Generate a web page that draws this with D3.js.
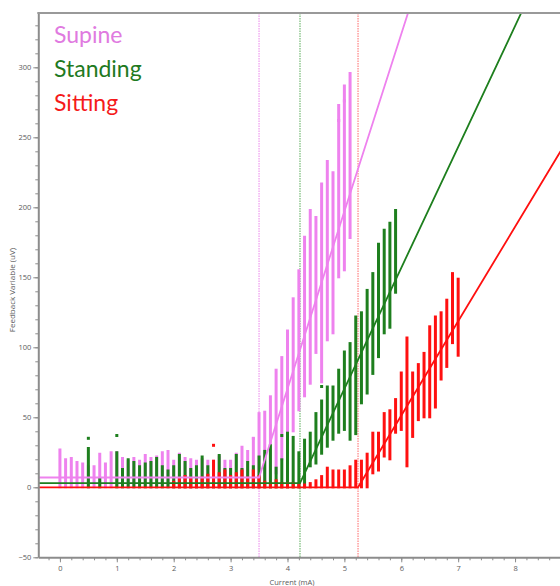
<!DOCTYPE html>
<html>
<head>
<meta charset="utf-8">
<script src="https://cdn.jsdelivr.net/npm/d3@7"></script>
<style>
	body { margin: 0; background: #fff; }
	svg { display: block; }
	.axis { color: #8c8c8c; }
	.axis text { fill: #5a5a5a; font-family: "Open Sans", sans-serif; font-size: 7.5px; }
</style>
</head>
<body>
<svg id="chart"></svg>
<script>
// columns of readings: [current (mA), lowest value, highest value] in uV
var supineCols = [
	[0.0,0,27],[0.1,0,20],[0.2,0,21],[0.3,0,18],[0.4,0,17],[0.5,0,15],[0.6,0,15],[0.7,0,24],
	[0.8,0,17],[0.9,0,25],[1.0,0,25],[1.1,0,21],[1.2,0,19],[1.3,0,21],[1.4,0,19],[1.5,0,23],
	[1.6,0,21],[1.7,0,22],[1.8,0,25],[1.9,0,26],[2.0,0,19],[2.1,0,24],[2.2,0,21],[2.3,0,20],
	[2.4,0,19],[2.5,0,20],[2.6,0,19],[2.7,0,19],[2.8,0,22],[2.9,0,19],[3.0,0,19],[3.1,0,24],
	[3.2,0,29],[3.3,0,26],[3.4,0,35],[3.5,0,53],[3.6,2,54],[3.7,5,65],[3.8,10,84],[3.9,20,93],
	[4.0,30,112],[4.1,40,135],[4.2,55,155],[4.3,65,179],[4.4,74,198],[4.5,96,193],[4.6,75,217],
	[4.7,105,233],[4.8,110,225],[4.9,150,273],[5.0,155,287],[5.1,178,296]
];
var standingCols = [
	[0.5,0,28],[0.7,0,6],[1.0,0,25],[1.1,0,13],[1.2,0,20],[1.3,0,18],[1.4,0,15],[1.5,0,17],
	[1.6,0,18],[1.7,0,21],[1.8,0,15],[1.9,0,12],[2.0,0,15],[2.1,0,23],[2.2,0,18],[2.3,0,13],
	[2.4,0,15],[2.5,0,22],[2.6,0,15],[2.7,0,5],[2.8,0,23],[2.9,0,13],[3.0,0,13],[3.1,0,23],
	[3.2,0,13],[3.3,0,18],[3.4,0,15],[3.5,0,22],[3.6,0,26],[3.7,0,30],[3.8,0,14],[3.9,0,20],
	[4.0,0,39],[4.1,0,36],[4.2,0,25],[4.3,0,34],[4.4,15,39],[4.5,17,53],[4.6,24,62],[4.7,29,72],
	[4.8,34,72],[4.9,39,84],[5.0,41,97],[5.1,34,103],[5.2,38,122],[5.3,60,125],[5.4,67,141],
	[5.5,81,153],[5.6,93,174],[5.7,110,184],[5.8,114,189],[5.9,139,198]
];
var sittingCols = [
	[2.0,0,4],[2.1,0,6],[2.2,0,8],[2.3,0,6],[2.4,0,5],[2.5,0,7],[2.6,0,9],[2.7,0,19],
	[2.8,0,10],[2.9,0,12],[3.0,0,8],[3.1,0,10],[3.2,0,12],[3.3,0,7],[3.4,0,12],[3.5,0,8],
	[3.6,0,4],[3.7,0,3],[3.8,0,5],[3.9,0,3],[4.0,0,3],[4.1,0,3],[4.2,0,2],[4.3,0,2],
	[4.4,0,3],[4.5,0,5],[4.6,0,8],[4.7,0,14],[4.8,0,12],[4.9,0,12],[5.0,0,12],[5.1,0,15],
	[5.2,0,19],[5.3,0,19],[5.4,0,24],[5.5,10,39],[5.6,12,39],[5.7,22,53],[5.8,20,55],
	[5.9,39,63],[6.0,41,82],[6.1,15,107],[6.2,36,82],[6.3,48,88],[6.4,50,96],[6.5,50,115],
	[6.6,57,122],[6.7,77,125],[6.8,86,134],[6.9,103,153],[7.0,94,149]
];

// single readings standing apart from their column
var supineDots = [[3.4,35],[4.9,262],[5.0,276]];
var standingDots = [[0.5,35],[1.0,37],[3.9,37],[4.6,72]];
var sittingDots = [[2.7,30]];

// fitted threshold curves: knots [current, value]
var supineFit = [[-0.4,7],[3.5,7],[6.12,339]];
var standingFit = [[-0.4,3],[4.22,3],[8.11,339]];
var sittingFit = [[-0.4,0],[5.24,0],[8.8,240]];

var thresholds = [3.5, 4.22, 5.24];
var seriesNames = ["Supine", "Standing", "Sitting"];
var xTicks = [0,1,2,3,4,5,6,7,8];
var yTicks = [-50,0,50,100,150,200,250,300];

var colors = { Supine: "#ee82ee", Standing: "#1e7f1e", Sitting: "#ff1010" };
var textColors = { Supine: "#e07ae0", Standing: "#1f7a1f", Sitting: "#f51a1a" };
var lineColors = { Supine: "#f0a0f0", Standing: "#7fbf7f", Sitting: "#ff8a8a" };

function drawChart() {
	var W = 560, H = 586;
	var pLeft = 38.3, pRight = 560, pTop = 13, pBottom = 557.3;

	var svg = d3.select("#chart").attr("width", W).attr("height", H);

	var xScale = d3.scaleLinear().domain([-0.38, 8.79]).range([pLeft, pRight]);
	var yScale = d3.scaleLinear().domain([-50, 338.8]).range([pBottom, pTop]);

	svg.append("defs").append("clipPath").attr("id", "plot")
		.append("rect")
		.attr("x", pLeft).attr("y", pTop)
		.attr("width", pRight - pLeft).attr("height", pBottom - pTop);

	var plot = svg.append("g").attr("clip-path", "url(#plot)");

	// threshold markers
	plot.selectAll(".thr")
		.data(thresholds)
		.enter()
		.append("line")
		.attr("class", "thr")
		.attr("x1", function (d) { return xScale(d); })
		.attr("x2", function (d) { return xScale(d); })
		.attr("y1", pTop).attr("y2", pBottom)
		.attr("stroke", function (d, i) { return lineColors[seriesNames[i]]; })
		.attr("stroke-width", 1.3)
		.attr("stroke-dasharray", "1.5,1");

	var series = [
		{ name: "Supine", cols: supineCols, dots: supineDots, fit: supineFit },
		{ name: "Standing", cols: standingCols, dots: standingDots, fit: standingFit },
		{ name: "Sitting", cols: sittingCols, dots: sittingDots, fit: sittingFit }
	];

	series.forEach(function (s) {
		var g = plot.append("g");
		g.selectAll("line")
			.data(s.cols)
			.enter()
			.append("line")
			.attr("x1", function (d) { return xScale(d[0]); })
			.attr("x2", function (d) { return xScale(d[0]); })
			.attr("y1", function (d) { return yScale(d[1]) + 1; })
			.attr("y2", function (d) { return yScale(d[2]) - 1; })
			.attr("stroke", colors[s.name])
			.attr("stroke-width", 3);
		g.selectAll("rect")
			.data(s.dots)
			.enter()
			.append("rect")
			.attr("x", function (d) { return xScale(d[0]) - 1.5; })
			.attr("y", function (d) { return yScale(d[1]) - 1.5; })
			.attr("width", 3).attr("height", 3)
			.attr("fill", colors[s.name]);
	});

	var line = d3.line()
		.x(function (d) { return xScale(d[0]); })
		.y(function (d) { return yScale(d[1]); });

	series.forEach(function (s) {
		plot.append("path")
			.datum(s.fit)
			.attr("d", line)
			.attr("fill", "none")
			.attr("stroke", colors[s.name])
			.attr("stroke-width", 1.8);
	});

	// axes
	svg.append("g")
		.attr("class", "axis")
		.attr("transform", "translate(" + pLeft + ",0)")
		.call(d3.axisLeft(yScale).tickValues(d3.range(-50, 340, 10)).tickSize(3).tickSizeOuter(0).tickFormat(""))
		.select(".domain").remove();
	svg.append("g")
		.attr("class", "axis")
		.attr("transform", "translate(" + pLeft + ",0)")
		.call(d3.axisLeft(yScale).tickValues(yTicks).tickSize(5).tickSizeOuter(0).tickPadding(2))
		.select(".domain").attr("stroke-width", 2);

	svg.append("g")
		.attr("class", "axis")
		.attr("transform", "translate(0," + pBottom + ")")
		.call(d3.axisBottom(xScale).tickValues(d3.range(-0.2, 8.8, 0.2)).tickSize(3).tickSizeOuter(0).tickFormat(""))
		.select(".domain").remove();
	svg.append("g")
		.attr("class", "axis")
		.attr("transform", "translate(0," + pBottom + ")")
		.call(d3.axisBottom(xScale).tickValues(xTicks).tickSize(5).tickSizeOuter(0).tickPadding(3))
		.select(".domain").attr("stroke-width", 2);

	svg.append("line")
		.attr("x1", pLeft - 1).attr("x2", pRight)
		.attr("y1", pTop).attr("y2", pTop)
		.attr("stroke", "#999").attr("stroke-width", 2);

	svg.append("text")
		.attr("x", 292).attr("y", 584.5)
		.attr("text-anchor", "middle")
		.attr("fill", "#5a5a5a")
		.style("font-family", "Open Sans, sans-serif").style("font-size", "7.5px")
		.text("Current (mA)");

	svg.append("text")
		.attr("transform", "translate(15,290) rotate(-90)")
		.attr("text-anchor", "middle")
		.attr("fill", "#5a5a5a")
		.style("font-family", "Open Sans, sans-serif").style("font-size", "8px")
		.text("Feedback Variable (uV)");

	// legend labels
	svg.selectAll(".legend")
		.data(seriesNames)
		.enter()
		.append("text")
		.attr("class", "legend")
		.attr("x", 54)
		.attr("y", function (d, i) { return 43 + i * 34; })
		.attr("fill", function (d) { return textColors[d]; })
		.style("font-family", "Lato, sans-serif")
		.style("font-size", "23px")
		.text(function (d) { return d; });
}

drawChart();
</script>
</body>
</html>
